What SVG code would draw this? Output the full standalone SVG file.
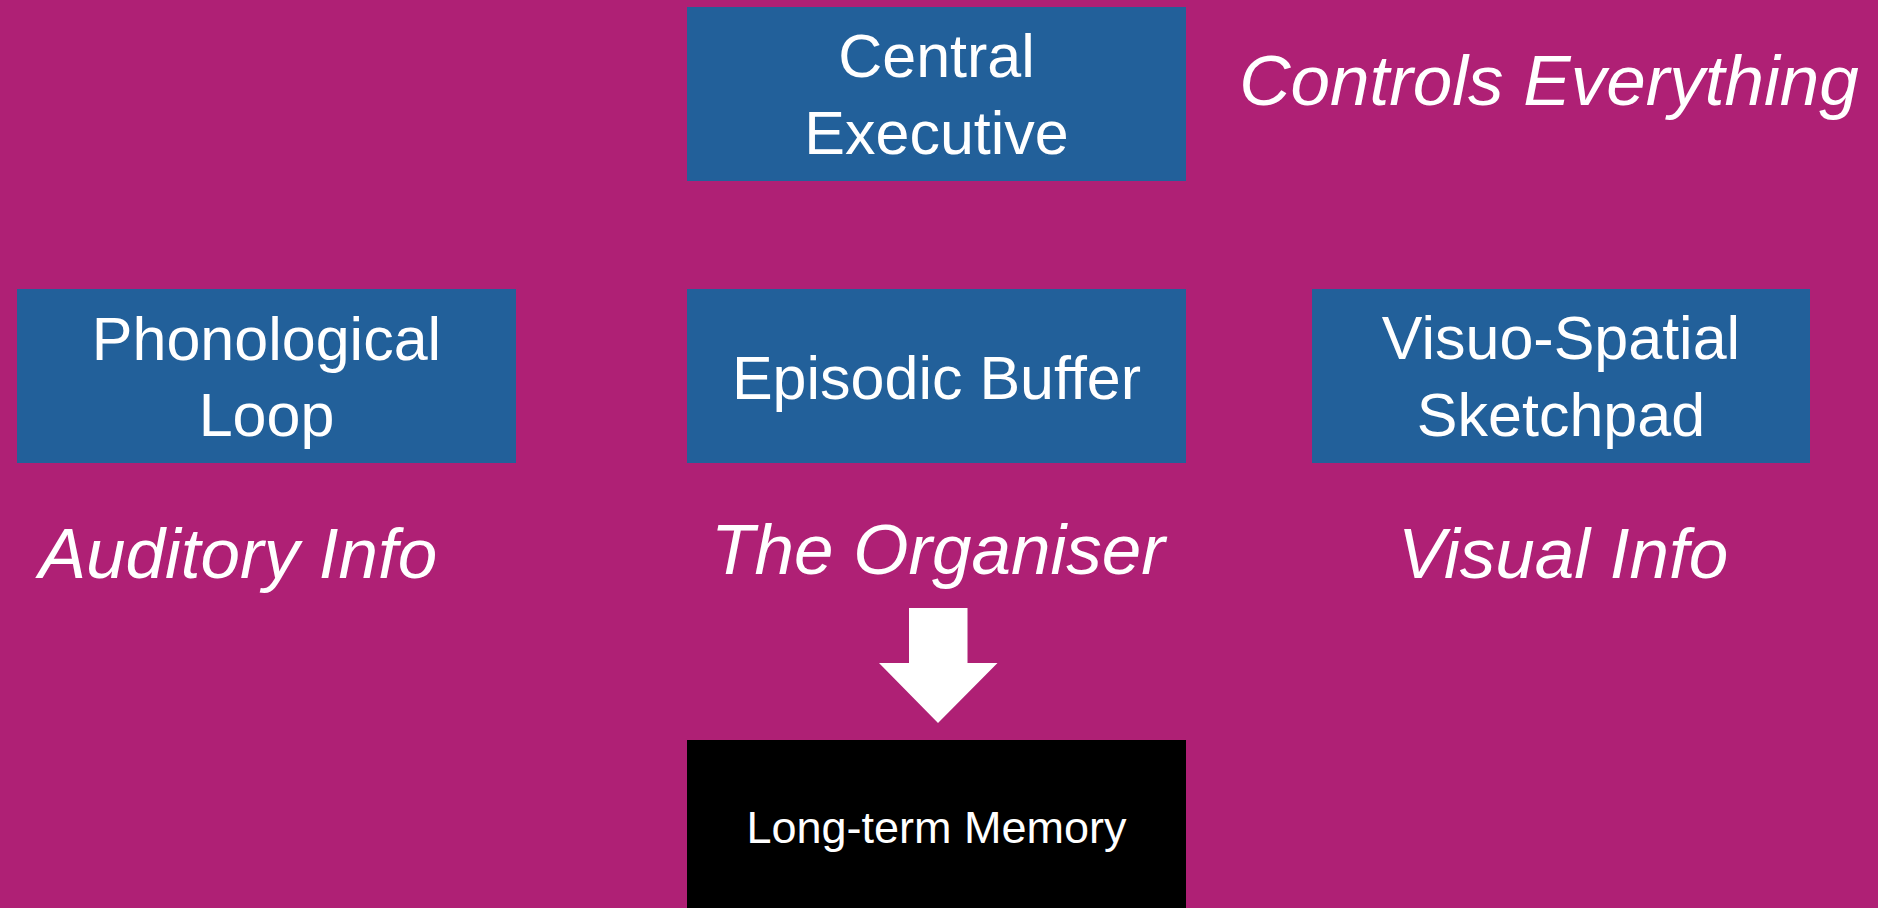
<svg xmlns="http://www.w3.org/2000/svg" width="1878" height="908" viewBox="0 0 1878 908">
<style>
.box{fill:#22609A}
.lbl{font-family:"Liberation Sans",Arial,sans-serif;font-size:61px;fill:#ffffff;text-anchor:middle}
.note{font-family:"Liberation Sans",Arial,sans-serif;font-size:71px;font-style:italic;fill:#ffffff;text-anchor:middle}
</style>
<rect width="1878" height="908" fill="#AF2075"/>
<g id="central-executive">
<rect class="box" x="687" y="7" width="499" height="174"/>
<text class="lbl" x="936.5" y="77">Central</text>
<text class="lbl" x="936.5" y="154">Executive</text>
</g>
<g id="controls-everything">
<text class="note" x="1549" y="105" font-size="68">Controls Everything</text>
</g>
<g id="phonological-loop">
<rect class="box" x="17" y="289" width="499" height="174"/>
<text class="lbl" x="266.5" y="360">Phonological</text>
<text class="lbl" x="266.5" y="436">Loop</text>
</g>
<g id="auditory-info">
<text class="note" x="238" y="578">Auditory Info</text>
</g>
<g id="episodic-buffer">
<rect class="box" x="687" y="289" width="499" height="174"/>
<text class="lbl" x="936.5" y="399">Episodic Buffer</text>
</g>
<g id="the-organiser">
<text class="note" x="938" y="574">The Organiser</text>
</g>
<g id="visuo-spatial-sketchpad">
<rect class="box" x="1312" y="289" width="498" height="174"/>
<text class="lbl" x="1561" y="359">Visuo-Spatial</text>
<text class="lbl" x="1561" y="436">Sketchpad</text>
</g>
<g id="visual-info">
<text class="note" x="1563" y="578">Visual Info</text>
</g>
<g id="connectors">
<polygon points="909,608 967.5,608 967.5,663 997.5,663 938,723 879,663 909,663" fill="#ffffff"/>
</g>
<g id="long-term-memory">
<rect x="687" y="740" width="499" height="168" fill="#000000"/>
<text x="936.5" y="843" font-family="'Liberation Sans',Arial,sans-serif" font-size="45" fill="#ffffff" text-anchor="middle">Long-term Memory</text>
</g>
</svg>
